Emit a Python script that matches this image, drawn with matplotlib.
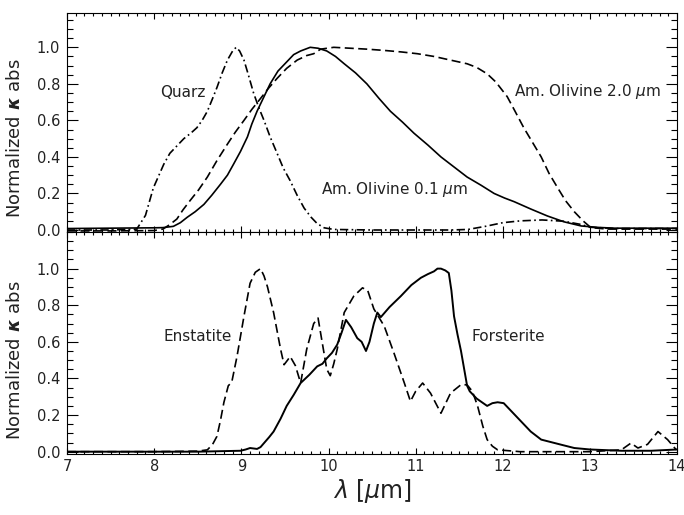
import matplotlib
matplotlib.use('Agg')
import matplotlib.pyplot as plt
from matplotlib.ticker import MultipleLocator

# Top panel: amorphous olivine (two grain sizes) and quartz
quarz_x = [7.0, 7.5, 7.8, 7.9, 7.99, 8.11, 8.18, 8.26, 8.34, 8.42, 8.49, 8.55, 8.61, 8.67,
           8.72, 8.78, 8.84, 8.90, 8.94, 8.98, 9.03, 9.08, 9.14, 9.20, 9.26, 9.33, 9.41,
           9.48, 9.56, 9.64, 9.72, 9.80, 9.87, 9.95, 10.06, 10.5, 11.0, 11.4, 11.6, 11.8,
           12.0, 12.2, 12.45, 12.7, 12.9, 13.0, 13.3, 14.0]
quarz_y = [0.0, 0.0, 0.005, 0.08, 0.23, 0.36, 0.42, 0.46, 0.50, 0.53, 0.56, 0.60, 0.65, 0.72,
           0.78, 0.86, 0.93, 0.98, 1.0, 0.98, 0.93, 0.85, 0.75, 0.67, 0.60, 0.51, 0.42,
           0.34, 0.27, 0.19, 0.12, 0.07, 0.035, 0.012, 0.003, 0.0, 0.0, 0.0, 0.003, 0.02,
           0.04, 0.05, 0.055, 0.048, 0.03, 0.015, 0.008, 0.008]

oliv01_x = [7.0, 7.5, 8.0, 8.1, 8.22, 8.3, 8.38, 8.47, 8.57, 8.66, 8.76, 8.84, 8.91, 8.99,
            9.07, 9.12, 9.18, 9.25, 9.33, 9.42, 9.52, 9.60, 9.68, 9.79, 9.88, 9.98, 10.08,
            10.18, 10.31, 10.44, 10.58, 10.71, 10.85, 10.98, 11.14, 11.29, 11.44, 11.59,
            11.75, 11.90, 12.02, 12.13, 12.32, 12.51, 12.70, 12.90, 13.1, 13.28, 13.6, 14.0]
oliv01_y = [0.008, 0.01, 0.012, 0.013, 0.02, 0.04, 0.07, 0.10, 0.14, 0.19, 0.25, 0.30, 0.36,
            0.43, 0.51, 0.58, 0.65, 0.72, 0.80, 0.87, 0.92, 0.96, 0.98, 1.0, 0.995, 0.98,
            0.95, 0.91, 0.86, 0.80, 0.72, 0.65, 0.59, 0.53, 0.465, 0.40, 0.345, 0.29, 0.245,
            0.20, 0.175, 0.155, 0.115, 0.077, 0.045, 0.022, 0.014, 0.01, 0.01, 0.01]

oliv20_x = [7.0, 7.5, 8.0, 8.1, 8.18, 8.26, 8.33, 8.41, 8.51, 8.61, 8.72, 8.84, 8.93, 9.03,
            9.12, 9.22, 9.31, 9.41, 9.52, 9.64, 9.75, 9.83, 9.91, 10.06, 10.25, 10.44, 10.64,
            10.83, 11.02, 11.21, 11.40, 11.59, 11.70, 11.82, 11.92, 12.05, 12.14, 12.24,
            12.34, 12.44, 12.53, 12.63, 12.72, 12.82, 12.92, 13.01, 13.2, 13.5, 14.0]
oliv20_y = [-0.005, -0.005, -0.003, 0.005, 0.03, 0.06, 0.11, 0.16, 0.22, 0.29, 0.38, 0.47,
            0.535, 0.60, 0.66, 0.72, 0.775, 0.83, 0.885, 0.93, 0.955, 0.965, 0.99, 1.0,
            0.995, 0.99, 0.983, 0.975, 0.965, 0.95, 0.93, 0.91, 0.89, 0.855, 0.81, 0.73,
            0.65, 0.56, 0.48, 0.40, 0.31, 0.23, 0.16, 0.10, 0.05, 0.013, 0.005, 0.005, 0.005]

# Bottom panel: crystalline enstatite and forsterite
enst_x = [7.0, 8.0, 8.5, 8.61, 8.67, 8.72, 8.76, 8.80, 8.85, 8.89, 8.95, 9.03, 9.10, 9.16,
          9.22, 9.26, 9.30, 9.37, 9.45, 9.49, 9.53, 9.56, 9.62, 9.68, 9.75, 9.83, 9.88,
          9.93, 9.98, 10.02, 10.06, 10.10, 10.18, 10.29, 10.39, 10.45, 10.52, 10.64, 10.75,
          10.87, 10.94, 11.0, 11.08, 11.17, 11.29, 11.40, 11.52, 11.59, 11.65, 11.71, 11.77,
          11.82, 11.88, 11.94, 12.2, 12.6, 13.0, 13.36, 13.47, 13.55, 13.66, 13.78, 13.89, 13.99]
enst_y = [0.0, 0.0, 0.003, 0.01, 0.04, 0.084, 0.17, 0.27, 0.36, 0.38, 0.52, 0.74, 0.92, 0.98,
          1.0, 0.96, 0.90, 0.76, 0.56, 0.475, 0.50, 0.52, 0.47, 0.375, 0.56, 0.70, 0.73,
          0.59, 0.45, 0.415, 0.48, 0.56, 0.76, 0.85, 0.895, 0.88, 0.78, 0.685, 0.54, 0.375,
          0.275, 0.33, 0.375, 0.32, 0.21, 0.32, 0.366, 0.365, 0.33, 0.25, 0.14, 0.066, 0.03,
          0.01, 0.0, 0.0, 0.0, 0.01, 0.047, 0.02, 0.04, 0.11, 0.066, 0.01]

forst_x = [7.0, 8.0, 8.5, 8.99, 9.05, 9.10, 9.18, 9.22, 9.26, 9.32, 9.37, 9.45, 9.52, 9.60,
           9.68, 9.78, 9.87, 9.93, 9.98, 10.04, 10.10, 10.15, 10.20, 10.26, 10.33, 10.38,
           10.43, 10.47, 10.52, 10.56, 10.60, 10.70, 10.83, 10.95, 11.06, 11.14, 11.21,
           11.25, 11.29, 11.34, 11.38, 11.41, 11.44, 11.48, 11.52, 11.59, 11.62, 11.70,
           11.82, 11.88, 11.94, 12.01, 12.10, 12.21, 12.32, 12.44, 12.67, 12.82, 13.0,
           13.36, 13.7, 14.0]
forst_y = [0.0, 0.0, 0.0, 0.005, 0.012, 0.02, 0.015, 0.025, 0.047, 0.08, 0.11, 0.18, 0.25,
           0.31, 0.375, 0.42, 0.466, 0.48, 0.51, 0.54, 0.585, 0.65, 0.72, 0.68, 0.62, 0.60,
           0.55, 0.60, 0.70, 0.76, 0.735, 0.79, 0.85, 0.91, 0.95, 0.97, 0.985, 1.0, 1.0,
           0.99, 0.976, 0.88, 0.74, 0.64, 0.55, 0.36, 0.33, 0.29, 0.25, 0.265, 0.27, 0.265,
           0.22, 0.165, 0.11, 0.066, 0.038, 0.02, 0.012, 0.005, 0.005, 0.012]

ytick_vals = [0.0, 0.2, 0.4, 0.6, 0.8, 1.0]
ytick_labels = ['0.0', '0.2', '0.4', '0.6', '0.8', '1.0']
xtick_vals = [7, 8, 9, 10, 11, 12, 13, 14]

plt.rcParams['lines.scale_dashes'] = False
plt.rcParams['font.family'] = 'DejaVu Sans'
plt.rcParams['mathtext.fontset'] = 'dejavusans'

dash = (0, (6.5, 3.2))
dashdot = (0, (6, 2.4, 1.2, 2.4))
lw = 1.2
txt = '#222222'

fig = plt.figure(figsize=(6.84, 5.15), dpi=100)
ax1 = fig.add_axes([0.098, 0.5495, 0.892, 0.4253])
ax2 = fig.add_axes([0.098, 0.1194, 0.892, 0.4301])


def style_axis(ax, ylim):
    ax.set_xlim(7, 14)
    ax.set_ylim(*ylim)
    ax.set_yticks(ytick_vals)
    ax.set_yticklabels(ytick_labels)
    ax.set_xticks(xtick_vals)
    ax.xaxis.set_minor_locator(MultipleLocator(0.1))
    ax.yaxis.set_minor_locator(MultipleLocator(0.05))
    ax.tick_params(axis='both', which='both', direction='in', top=True, right=True,
                   labelsize=10.5, colors='black', labelcolor=txt, width=0.8)
    ax.tick_params(axis='y', which='major', length=8, pad=5)
    ax.tick_params(axis='y', which='minor', length=4.5)
    ax.tick_params(axis='x', which='major', length=4, pad=4)
    ax.tick_params(axis='x', which='minor', length=2)
    for s in ax.spines.values():
        s.set_linewidth(0.8)
    ax.set_ylabel(r'Normalized $\boldsymbol{\kappa}$ abs', fontsize=13, color=txt)
    yc = (0.5 - ylim[0]) / (ylim[1] - ylim[0])
    ax.yaxis.set_label_coords(-0.071, yc)


# top panel
ax1.plot(quarz_x, quarz_y, color='black', lw=lw, linestyle=dashdot)
ax1.plot(oliv20_x, oliv20_y, color='black', lw=lw, linestyle=dash)
ax1.plot(oliv01_x, oliv01_y, color='black', lw=lw)
style_axis(ax1, (-0.011, 1.188))
ax1.tick_params(axis='x', labelbottom=False)
ax1.text(8.07, 0.755, 'Quarz', fontsize=11, color=txt, va='center')
ax1.text(12.13, 0.76, r'Am. Olivine 2.0 $\mu$m', fontsize=11, color=txt, va='center')
ax1.text(9.91, 0.223, r'Am. Olivine 0.1 $\mu$m', fontsize=11, color=txt, va='center')

# bottom panel
ax2.plot(enst_x, enst_y, color='black', lw=lw, linestyle=dash)
ax2.plot(forst_x, forst_y, color='black', lw=1.4)
style_axis(ax2, (-0.01, 1.2))
ax2.text(8.11, 0.628, 'Enstatite', fontsize=11, color=txt, va='center')
ax2.text(11.64, 0.628, 'Forsterite', fontsize=11, color=txt, va='center')
ax2.set_xlabel(r'$\lambda$ [$\mu$m]', fontsize=17, color=txt)
ax2.xaxis.set_label_coords(0.5, -0.105)

plt.savefig('out.png', dpi=100)
